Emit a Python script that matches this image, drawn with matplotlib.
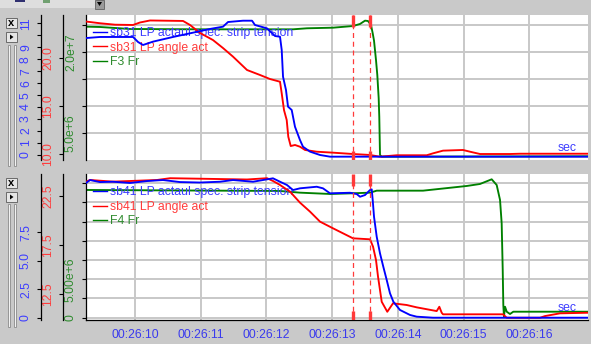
import numpy as np
import matplotlib
matplotlib.use("Agg")
import matplotlib.pyplot as plt
from matplotlib.patches import Rectangle, Polygon

plt.rcParams['font.family'] = ['Liberation Sans', 'DejaVu Sans']

# time axis: seconds after 00:26:00
time_ticks = [10, 11, 12, 13, 14, 15, 16]
time_labels = ['00:26:10', '00:26:11', '00:26:12', '00:26:13', '00:26:14', '00:26:15', '00:26:16']
t_view = (9.254, 16.895)
cursors = [13.32, 13.58]

# ---- stand 3 (upper panel) ----
sb31_tension_t = [9.254, 9.467, 9.970, 10.046, 10.122, 10.274, 10.578, 10.883, 11.142, 11.339, 11.416,
                  11.644, 11.781, 11.826, 12.009, 12.131, 12.207, 12.233, 12.253, 12.298, 12.329, 12.385,
                  12.435, 12.511, 12.557, 12.664, 12.816, 12.968, 16.895]
sb31_tension = [9.77, 9.86, 9.86, 9.44, 9.19, 9.47, 9.86, 10.22, 10.53, 10.72, 11.11,
                11.22, 11.22, 10.86, 10.58, 9.94, 9.88, 8.77, 6.54, 5.43, 4.04, 3.76,
                2.36, 1.25, 0.69, 0.28, 0.0, -0.14, -0.14]

sb31_angle_t = [9.254, 9.467, 9.696, 9.970, 10.076, 10.228, 10.731, 10.837, 10.989, 11.187, 11.339,
                11.492, 11.705, 11.903, 12.055, 12.207, 12.233, 12.268, 12.309, 12.333, 12.370, 12.435,
                12.511, 12.588, 12.766, 13.014, 13.318, 13.577, 13.729, 13.983, 14.440, 14.536, 14.688,
                14.992, 15.099, 15.251, 15.708, 15.860, 16.895]
sb31_angle = [23.83, 23.65, 23.5, 23.47, 23.73, 23.94, 23.89, 23.47, 22.64, 21.9, 21.07,
              20.17, 18.78, 18.26, 17.84, 17.56, 16.35, 14.6, 13.57, 11.83, 10.86, 10.97,
              10.79, 10.45, 10.27, 10.17, 10.03, 9.93, 9.75, 9.9, 9.9, 10.1, 10.38,
              10.45, 10.27, 10.03, 10.03, 10.06, 10.06]

f3_t = [9.254, 9.467, 9.924, 10.989, 12.405, 12.618, 13.014, 13.318, 13.425, 13.501, 13.546,
        13.592, 13.618, 13.638, 13.668, 13.688, 13.709, 13.718, 13.729, 13.755, 16.895]
f3_force = [24.69, 24.63, 24.26, 24.2, 24.2, 24.39, 24.5, 24.81, 25.19, 25.8, 25.74,
            25.0, 23.46, 22.09, 18.52, 15.74, 11.43, 8.02, 0.93, 0.61, 0.69]  # x 1e6

# ---- stand 4 (lower panel) ----
sb41_tension_t = [9.254, 9.315, 9.467, 9.665, 9.924, 10.183, 10.426, 10.685, 10.989, 11.294, 11.492,
                  11.796, 12.100, 12.207, 12.314, 12.405, 12.511, 12.766, 12.861, 12.968, 13.272,
                  13.374, 13.425, 13.501, 13.577, 13.603, 13.618, 13.638, 13.679, 13.729, 13.779,
                  13.831, 13.881, 13.932, 14.033, 14.186, 14.288, 14.536, 16.895]
sb41_tension = [11.85, 12.11, 11.93, 11.96, 11.85, 12.02, 12.11, 11.93, 11.89, 11.96, 12.11,
                11.96, 12.26, 11.96, 11.67, 11.23, 11.38, 11.52, 11.38, 10.94, 10.99,
                10.88, 10.64, 10.79, 11.23, 11.29, 10.35, 8.88, 7.12, 5.66, 4.49,
                3.32, 2.15, 1.41, 0.68, 0.24, 0.09, 0.0, 0.0]

sb41_angle_t = [9.254, 9.315, 9.665, 10.335, 10.533, 11.705, 12.009, 12.100, 12.207, 12.359, 12.511,
                12.664, 12.816, 13.014, 13.166, 13.318, 13.577, 13.623, 13.668, 13.699, 13.755,
                13.840, 13.927, 14.135, 14.288, 14.592, 14.632, 14.668, 14.688, 15.601, 15.658,
                16.164, 16.240, 16.469, 16.895]
sb41_angle = [23.96, 24.13, 23.96, 24.13, 24.31, 24.18, 24.31, 24.03, 23.62, 22.94, 21.82,
              20.9, 19.88, 19.2, 18.69, 18.18, 18.08, 17.33, 15.97, 14.27, 11.71,
              10.69, 11.55, 11.38, 11.14, 10.76, 11.2, 10.59, 10.43, 10.43, 10.08,
              10.08, 10.25, 10.53, 10.59]

f4_t = [9.254, 12.207, 12.511, 12.968, 13.318, 13.577, 13.679, 14.384, 15.049, 15.251, 15.429,
        15.505, 15.556, 15.581, 15.597, 15.606, 15.616, 15.632, 15.658, 15.708, 15.758, 16.895]
f4_force = [16.63, 16.5, 16.28, 16.11, 16.2, 16.28, 16.54, 16.54, 17.15, 17.41, 18.02,
            17.28, 15.33, 12.29, 6.21, 1.65, 0.13, 1.43, 0.78, 0.48, 0.78, 0.78]  # x 1e6

BG = '#c9c9c9'
GRID = '#c8c8c8'
BLUE, RED, GREEN = '#0000ff', '#ff0000', '#008000'
TXT_BLUE, TXT_RED, TXT_GREEN = '#3c3cff', '#ff3c3c', '#2e8b2e'
FS = 8.8
LW = 1.35

W, H = 591, 344
fig = plt.figure(figsize=(W / 100, H / 100), dpi=100)
fig.patch.set_facecolor(BG)

# window decoration (toolbar strip, buttons, sliders)
deco = fig.add_axes([0, 0, 1, 1])
deco.set_xlim(0, W)
deco.set_ylim(H, 0)
deco.axis('off')
deco.add_patch(Rectangle((0, 0), 104, 8, fc='#dedede', ec='none'))
deco.add_patch(Rectangle((15, 0), 10, 2, fc='#303070', ec='none'))
deco.add_patch(Rectangle((43, 0), 7, 3, fc='#70a070', ec='none'))
deco.add_patch(Rectangle((95, 0), 9, 9, fc='#9a9a9a', ec='#606060', lw=0.6))
deco.add_patch(Polygon([[97, 2], [102, 2], [99.5, 6]], closed=True, fc='black', ec='none'))
for top, s_top, s_bot in [(18, 45, 166), (178, 204, 327)]:
    deco.add_patch(Rectangle((6, top), 11, 10, fc='#e6e6e6', ec='#6a6a6a', lw=0.7))
    deco.text(11.5, top + 5, 'x', ha='center', va='center', fontsize=8, fontweight='bold', color='black')
    deco.add_patch(Rectangle((6, top + 14), 11, 10, fc='#e6e6e6', ec='#6a6a6a', lw=0.7))
    deco.add_patch(Polygon([[10, top + 16.5], [10, top + 21.5], [13.5, top + 19]], closed=True,
                           fc='black', ec='none'))
    for sx in (7.5, 13.5):
        deco.add_patch(Rectangle((sx, s_top), 2, s_bot - s_top, fc='#f2f2f2', ec='#8a8a8a', lw=0.6))


def side_axis(rect, host, color, outward_px, ylim, ticks, labels):
    ax = fig.add_axes(rect, sharex=host)
    ax.patch.set_visible(False)
    for s in ('top', 'right', 'bottom'):
        ax.spines[s].set_visible(False)
    ax.spines['left'].set_position(('outward', outward_px * 0.72))
    ax.spines['left'].set_linewidth(0.9)
    ax.set_ylim(*ylim)
    ax.set_yticks(ticks)
    ax.set_yticklabels(labels)
    ax.tick_params(axis='y', direction='out', length=3, width=0.8, pad=3.5,
                   labelrotation=90, labelsize=FS, labelcolor=color)
    ax.tick_params(axis='x', bottom=False, labelbottom=False)
    for lab in ax.get_yticklabels():
        lab.set_va('center')
    return ax


def draw_panel(rect, tension_t, tension, angle_t, angle, force_t, force, names,
               lim_b, lim_r, lim_g, tick_b, lab_b, tick_r, lab_r, tick_g, lab_g, bottom_axis):
    host = fig.add_axes(rect)
    host.set_facecolor('white')
    host.set_xlim(*t_view)
    host.set_ylim(*lim_g)
    host.set_xticks(time_ticks)
    host.set_yticks(tick_g)
    host.set_yticklabels(lab_g)
    host.grid(True, color=GRID, lw=1.4)
    host.set_axisbelow(True)
    for s in ('top', 'right'):
        host.spines[s].set_visible(False)
    host.spines['left'].set_linewidth(0.9)
    host.spines['bottom'].set_linewidth(0.9)
    host.spines['bottom'].set_visible(bottom_axis)
    host.tick_params(axis='y', direction='out', length=3, width=0.8, pad=3.5,
                     labelrotation=90, labelsize=FS, labelcolor=TXT_GREEN)
    for lab in host.get_yticklabels():
        lab.set_va('center')
    if bottom_axis:
        host.set_xticklabels(time_labels)
        host.tick_params(axis='x', length=0, pad=6.5, labelsize=FS, labelcolor='#3a3aee')
    else:
        host.tick_params(axis='x', length=0, labelbottom=False)

    g_line, = host.plot(force_t, force, color=GREEN, lw=LW)

    ax_r = side_axis(rect, host, TXT_RED, 23, lim_r, tick_r, lab_r)
    r_line, = ax_r.plot(angle_t, angle, color=RED, lw=LW)

    ax_b = side_axis(rect, host, TXT_BLUE, 45, lim_b, tick_b, lab_b)
    b_line, = ax_b.plot(tension_t, tension, color=BLUE, lw=LW)

    leg = host.legend([b_line, r_line, g_line], names, loc='upper left',
                      bbox_to_anchor=(0.014, 0.915), frameon=False, fontsize=FS,
                      handlelength=1.15, handletextpad=0.25, labelspacing=0.2,
                      borderpad=0, borderaxespad=0)
    for txt, c in zip(leg.get_texts(), (TXT_BLUE, TXT_RED, TXT_GREEN)):
        txt.set_color(c)
    for h in leg.legend_handles:
        h.set_linewidth(1.0)

    # cursor lines with their handles
    for c in cursors:
        ax_b.axvline(c, color='#ff3a3a', lw=0.9, ls=(0, (4, 3)))
        ax_b.axvline(c, ymin=1 - 12 / 145, ymax=1, color='#ff3a3a', lw=2.4, solid_capstyle='butt')
        ax_b.axvline(c, ymin=0, ymax=9 / 145, color='#ff3a3a', lw=2.4, solid_capstyle='butt')

    host.annotate('sec', xy=(1, 0), xycoords='axes fraction', xytext=(-11, 9),
                  textcoords='offset pixels', ha='right', va='baseline',
                  fontsize=FS, color=TXT_BLUE)


draw_panel([86 / W, 1 - 160 / H, 502 / W, 145 / H],
           sb31_tension_t, sb31_tension, sb31_angle_t, sb31_angle, f3_t, f3_force,
           ['sb31 LP actaul spec. strip tension', 'sb31 LP angle act', 'F3 Fr'],
           (-0.418, 11.696), (9.406, 24.51), (0, 26.85),
           list(range(12)), ['0', '1', '2', '3', '4', '5', '6', '7', '8', '9', '', '11'],
           [10, 15, 20], ['10.0', '15.0', '20.0'],
           [5, 10, 15, 20, 25], ['5.0e+6', '', '', '2.0e+7', ''],
           False)

draw_panel([86 / W, 1 - 320 / H, 502 / W, 146 / H],
           sb41_tension_t, sb41_tension, sb41_angle_t, sb41_angle, f4_t, f4_force,
           ['sb41 LP actaul spec. strip tension', 'sb41 LP angle act', 'F4 Fr'],
           (-0.202, 12.64), (9.85, 24.74), (-0.3, 18.71),
           [0, 2.5, 5, 7.5], ['0', '2.5', '5.0', '7.5'],
           [12.5, 17.5, 22.5], ['12.5', '17.5', '22.5'],
           [0, 2.5, 5, 7.5, 10, 12.5, 15, 17.5], ['0', '', '5.00e+6', '', '', '', '', ''],
           True)

fig.savefig('out.png', dpi=100, facecolor=BG)
